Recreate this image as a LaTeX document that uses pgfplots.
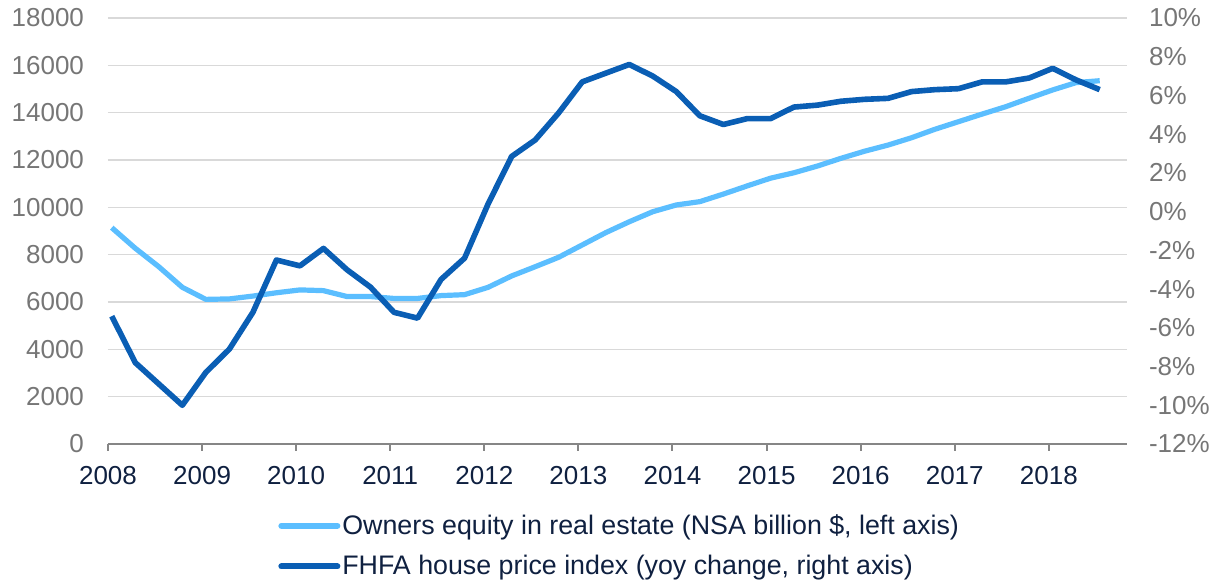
\documentclass[border=0pt]{standalone}
\usepackage{fontspec}
\setmainfont{Liberation Sans}
\usepackage{pgfplots}
\usepackage{pgfplotstable}
\pgfplotsset{compat=1.18}

\definecolor{eqblue}{RGB}{91,190,255}
\definecolor{hpiblue}{RGB}{10,94,180}
\definecolor{ticklab}{RGB}{118,118,118}
\definecolor{navy}{RGB}{15,32,64}
\definecolor{gridgray}{RGB}{217,217,217}
\definecolor{axgray}{RGB}{134,134,134}

% quarterly: owners equity (bn $) and FHFA HPI yoy (%)
\pgfplotstableread{
x        equity  hpi
2008.04  9140   -5.4
2008.29  8270   -7.8
2008.54  7490   -8.9
2008.79  6620  -10.0
2009.04  6110   -8.3
2009.29  6130   -7.1
2009.54  6250   -5.2
2009.79  6390   -2.5
2010.04  6510   -2.8
2010.29  6480   -1.9
2010.54  6230   -3.0
2010.79  6230   -3.9
2011.04  6150   -5.2
2011.29  6150   -5.5
2011.54  6270   -3.5
2011.79  6310   -2.4
2012.04  6620    0.4
2012.29  7100    2.85
2012.54  7490    3.7
2012.79  7890    5.1
2013.04  8410    6.7
2013.29  8930    7.15
2013.54  9390    7.6
2013.79  9815    7.0
2014.04 10100    6.2
2014.29 10240    4.95
2014.54 10560    4.5
2014.79 10900    4.8
2015.04 11230    4.8
2015.29 11460    5.4
2015.54 11745    5.5
2015.79 12070    5.7
2016.04 12370    5.8
2016.29 12630    5.85
2016.54 12940    6.2
2016.79 13300    6.3
2017.04 13620    6.35
2017.29 13940    6.7
2017.54 14250    6.7
2017.79 14610    6.9
2018.04 14960    7.4
2018.29 15270    6.8
2018.54 15350    6.3
}\housedata

\begin{document}
\begin{tikzpicture}
\useasboundingbox (-54pt,-69pt) rectangle (557.5pt,222pt);
\pgfplotsset{
  every axis/.append style={
    scale only axis, width=509.5pt, height=213pt,
    at={(0,0)}, anchor=south west,
    xmin=2008, xmax=2018.83,
    font=\fontsize{13}{15.5}\selectfont,
    /pgf/number format/assume math mode=true,
    /pgf/number format/set thousands separator={},
    scaled ticks=false,
  },
}
\begin{axis}[
  axis x line*=bottom, axis y line*=left,
  x axis line style={draw=axgray, line width=1pt, -},
  y axis line style={draw=none},
  ymin=0, ymax=18000, ytick={0,2000,...,18000},
  xtick={2008,...,2018},
  xticklabel={\pgfmathprintnumber[precision=0]{\tick}},
  tick align=outside, major tick length=3.5pt,
  xtick style={draw=axgray, line width=1pt},
  ytick style={draw=none},
  ymajorgrids, grid style={draw=gridgray, line width=0.8pt},
  xticklabel style={text=navy, yshift=-4pt},
  yticklabel style={text=ticklab, xshift=-5pt},
]
\addplot[eqblue, line width=2.6pt, line join=round] table[x=x, y=equity] {\housedata};
\end{axis}
\begin{axis}[
  axis y line*=right, axis x line=none,
  y axis line style={draw=none},
  ytick style={draw=none},
  ymin=-12, ymax=10, ytick={-12,-10,...,10},
  yticklabel={\pgfmathprintnumber{\tick}\%},
  yticklabel style={text=ticklab, xshift=7.5pt},
  legend cell align=left,
  legend image code/.code={\draw[#1, line cap=round] (0pt,0pt) -- (28pt,0pt);},
  legend style={draw=none, fill=none, inner sep=0pt, row sep=5pt,
    at={(0.1668,-0.155)}, anchor=north west, text=navy,
    nodes={inner xsep=1pt},
    font=\fontsize{13.4}{16}\selectfont},
]
\addlegendimage{eqblue, line width=3pt}
\addlegendentry{Owners equity in real estate (NSA billion \$, left axis)}
\addplot[hpiblue, line width=2.8pt, line join=round, forget plot] table[x=x, y=hpi] {\housedata};
\addlegendimage{hpiblue, line width=3pt}
\addlegendentry{FHFA house price index (yoy change, right axis)}
\end{axis}
\end{tikzpicture}
\end{document}
